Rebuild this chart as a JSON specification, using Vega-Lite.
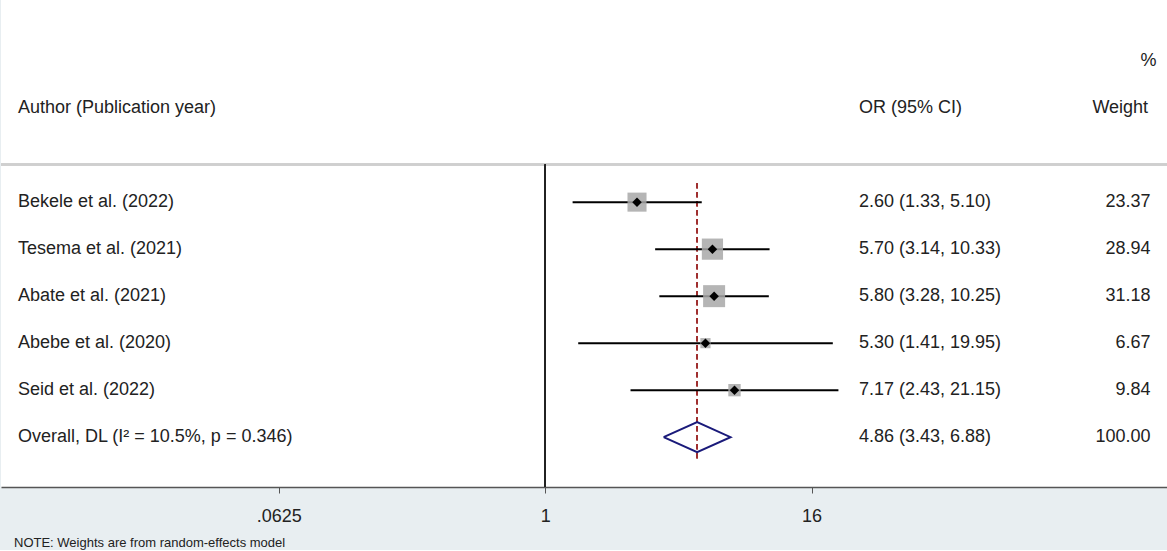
{
  "$schema": "https://vega.github.io/schema/vega-lite/v6.json",
  "width": 1167,
  "height": 487,
  "padding": 0,
  "background": "#e8eef1",
  "view": {"fill": "white", "stroke": null},
  "config": {"font": "Liberation Sans"},
  "title": {"text": "NOTE: Weights are from random-effects model", "orient": "bottom", "anchor": "start", "fontSize": 13, "fontWeight": "normal", "offset": 12, "dx": 14, "color": "#222"},
  "datasets": {
    "studies": [
      {"author": "Bekele et al. (2022)", "row": 1, "or": 2.60, "lo": 1.33, "hi": 5.10, "w": 23.37, "ci": "2.60 (1.33, 5.10)", "wl": "23.37"},
      {"author": "Tesema et al. (2021)", "row": 2, "or": 5.70, "lo": 3.14, "hi": 10.33, "w": 28.94, "ci": "5.70 (3.14, 10.33)", "wl": "28.94"},
      {"author": "Abate et al. (2021)", "row": 3, "or": 5.80, "lo": 3.28, "hi": 10.25, "w": 31.18, "ci": "5.80 (3.28, 10.25)", "wl": "31.18"},
      {"author": "Abebe et al. (2020)", "row": 4, "or": 5.30, "lo": 1.41, "hi": 19.95, "w": 6.67, "ci": "5.30 (1.41, 19.95)", "wl": "6.67"},
      {"author": "Seid et al. (2022)", "row": 5, "or": 7.17, "lo": 2.43, "hi": 21.15, "w": 9.84, "ci": "7.17 (2.43, 21.15)", "wl": "9.84"},
      {"author": "Overall, DL (I² = 10.5%, p = 0.346)", "row": 6, "ci": "4.86 (3.43, 6.88)", "wl": "100.00"}
    ],
    "diamond": [
      {"o": 1, "x": 3.43, "y": 6},
      {"o": 2, "x": 4.86, "y": 5.68},
      {"o": 3, "x": 6.88, "y": 6},
      {"o": 4, "x": 4.86, "y": 6.32},
      {"o": 5, "x": 3.43, "y": 6}
    ]
  },
  "data": {"name": "studies"},
  "encoding": {
    "x": {"type": "quantitative", "scale": {"type": "log", "base": 2, "domain": [0.00347, 653], "nice": false}},
    "y": {"type": "quantitative", "scale": {"domain": [-3.3, 7.06], "reverse": true, "nice": false, "zero": false}, "axis": null}
  },
  "layer": [
    {
      "mark": {"type": "rule", "color": "#cfcfcf", "strokeWidth": 2},
      "encoding": {"y": {"datum": 0.2}}
    },
    {
      "mark": {"type": "rule", "color": "#222", "strokeWidth": 1.5},
      "encoding": {
        "x": {"datum": 1, "type": "quantitative", "axis": {"values": [0.0625, 1, 16], "labelExpr": "datum.value == 0.0625 ? '.0625' : datum.label", "title": null, "grid": false, "domainColor": "#555", "domainWidth": 1.5, "tickColor": "#555", "tickSize": 6, "labelFontSize": 18, "labelColor": "#222", "labelPadding": 14}},
        "y": {"datum": 0.2},
        "y2": {"datum": 7.06}
      }
    },
    {
      "mark": {"type": "rule", "color": "#a03030", "strokeWidth": 1.5, "strokeDash": [5, 4]},
      "encoding": {"x": {"datum": 4.86}, "y": {"datum": 0.6}, "y2": {"datum": 6.5}}
    },
    {
      "transform": [{"filter": "datum.or != null"}],
      "mark": {"type": "rule", "color": "black", "strokeWidth": 2},
      "encoding": {"x": {"field": "lo"}, "x2": {"field": "hi"}, "y": {"field": "row"}}
    },
    {
      "transform": [{"filter": "datum.or != null"}],
      "mark": {"type": "square", "color": "#a8a8a8", "opacity": 0.85},
      "encoding": {"x": {"field": "or"}, "y": {"field": "row"}, "size": {"field": "w", "type": "quantitative", "scale": {"type": "linear", "domain": [0, 31.18], "range": [0, 484]}, "legend": null}}
    },
    {
      "transform": [{"filter": "datum.or != null"}],
      "mark": {"type": "point", "shape": "diamond", "filled": true, "color": "black", "size": 90, "opacity": 1},
      "encoding": {"x": {"field": "or"}, "y": {"field": "row"}}
    },
    {
      "data": {"name": "diamond"},
      "mark": {"type": "line", "color": "#1a1a7a", "strokeWidth": 2},
      "encoding": {"x": {"field": "x"}, "y": {"field": "y"}, "order": {"field": "o"}}
    },
    {
      "mark": {"type": "text", "align": "left", "baseline": "middle", "fontSize": 18, "color": "#222"},
      "encoding": {"x": {"datum": 0.00414}, "y": {"field": "row"}, "text": {"field": "author"}}
    },
    {
      "mark": {"type": "text", "align": "left", "baseline": "middle", "fontSize": 18, "color": "#222"},
      "encoding": {"x": {"datum": 26.2}, "y": {"field": "row"}, "text": {"field": "ci"}}
    },
    {
      "mark": {"type": "text", "align": "right", "baseline": "middle", "fontSize": 18, "color": "#222"},
      "encoding": {"x": {"datum": 545}, "y": {"field": "row"}, "text": {"field": "wl"}}
    },
    {
      "data": {"values": [
        {"t": "Author (Publication year)", "x": 0.00414, "row": -1, "a": "left"},
        {"t": "OR (95% CI)", "x": 26.2, "row": -1, "a": "left"},
        {"t": "Weight", "x": 531, "row": -1, "a": "right"},
        {"t": "%", "x": 580, "row": -2, "a": "right"}
      ]},
      "layer": [
        {
          "transform": [{"filter": "datum.a == 'left'"}],
          "mark": {"type": "text", "align": "left", "baseline": "middle", "fontSize": 18, "color": "#222"},
          "encoding": {"x": {"field": "x"}, "y": {"field": "row"}, "text": {"field": "t"}}
        },
        {
          "transform": [{"filter": "datum.a == 'right'"}],
          "mark": {"type": "text", "align": "right", "baseline": "middle", "fontSize": 18, "color": "#222"},
          "encoding": {"x": {"field": "x"}, "y": {"field": "row"}, "text": {"field": "t"}}
        }
      ]
    }
  ]
}
